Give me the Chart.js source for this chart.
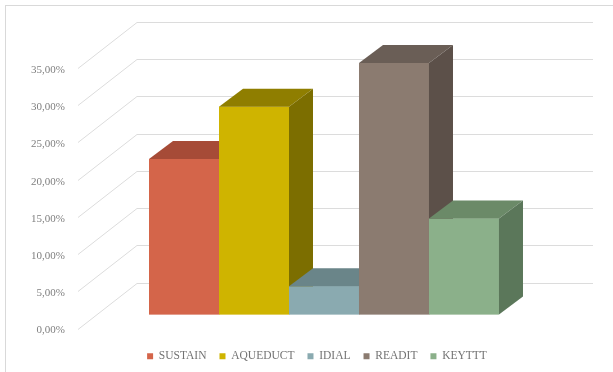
<!DOCTYPE html>
<html>
<head>
<meta charset="utf-8">
<script src="https://cdn.jsdelivr.net/npm/chart.js@4.4.1/dist/chart.umd.min.js"></script>
<style>
  html, body { margin: 0; padding: 0; background: #fff; }
</style>
</head>
<body>
<canvas id="chart" width="613" height="372"></canvas>
<script>
// Series (one bar each, values in %)
const seriesNames = ['SUSTAIN', 'AQUEDUCT', 'IDIAL', 'READIT', 'KEYTTT'];
const seriesValues = [20.9, 27.9, 3.8, 33.8, 12.9];
const yTicks = [0, 5, 10, 15, 20, 25, 30, 35];

// Face colours: front / top / right side
const frontColors = ['#d4654a', '#cfb400', '#8aaab0', '#8b7b70', '#8bb08a'];
const topColors = ['#a64b37', '#8f7e00', '#6a8589', '#6a5e56', '#6b8a68'];
const sideColors = ['#8f4030', '#7c6e00', '#5d7679', '#5c5049', '#5b775a'];

// Depth offsets (px) for the fake 3D
const BAR_DX = 24, BAR_DY = 18;      // bar depth
const FRONT_DX = 18, FRONT_DY = 14;  // bar plane -> front edge of floor
const WALL_DX = 41, WALL_DY = 32;    // bar plane -> back wall

function fmtPct(v) {
  return v.toFixed(2).replace('.', ',') + '%';
}

function poly(ctx, pts, color) {
  ctx.beginPath();
  ctx.moveTo(pts[0][0], pts[0][1]);
  for (let i = 1; i < pts.length; i++) ctx.lineTo(pts[i][0], pts[i][1]);
  ctx.closePath();
  ctx.fillStyle = color;
  ctx.fill();
}

// Outer frame
const frame = {
  id: 'frame',
  beforeDraw(chart) {
    const ctx = chart.ctx;
    ctx.save();
    ctx.strokeStyle = '#d9d9d9';
    ctx.lineWidth = 1;
    ctx.strokeRect(5.5, 5.5, 800, 800);
    ctx.restore();
  }
};

// Back wall gridlines + diagonal floor connectors
const depthGrid = {
  id: 'depthGrid',
  beforeDatasetsDraw(chart) {
    const { ctx, chartArea, scales: { y } } = chart;
    ctx.save();
    ctx.strokeStyle = '#dcdcdc';
    ctx.lineWidth = 1;
    yTicks.forEach(v => {
      const py = Math.round(y.getPixelForValue(v)) + 0.5;
      ctx.beginPath();
      ctx.moveTo(chartArea.left - FRONT_DX, py + FRONT_DY);
      ctx.lineTo(chartArea.left + WALL_DX, py - WALL_DY);
      ctx.lineTo(chartArea.right + WALL_DX, py - WALL_DY);
      ctx.stroke();
    });
    ctx.restore();
  }
};

// Redraw bars left to right with top and side faces
const bars3d = {
  id: 'bars3d',
  afterDatasetsDraw(chart) {
    const ctx = chart.ctx;
    ctx.save();
    chart.data.datasets.forEach((ds, i) => {
      const bar = chart.getDatasetMeta(i).data[0];
      const { x, y, base, width } = bar.getProps(['x', 'y', 'base', 'width'], true);
      const l = x - width / 2, r = x + width / 2;
      poly(ctx, [[l, y], [r, y], [r, base], [l, base]], frontColors[i]);
      poly(ctx, [[l, y], [l + BAR_DX, y - BAR_DY], [r + BAR_DX, y - BAR_DY], [r, y]], topColors[i]);
      poly(ctx, [[r, y], [r + BAR_DX, y - BAR_DY], [r + BAR_DX, base - BAR_DY], [r, base]], sideColors[i]);
    });
    ctx.restore();
  }
};

const ctx = document.getElementById('chart').getContext('2d');
new Chart(ctx, {
  type: 'bar',
  data: {
    labels: [''],
    datasets: seriesNames.map((name, i) => ({
      label: name,
      data: [seriesValues[i]],
      backgroundColor: frontColors[i],
      borderWidth: 0
    }))
  },
  options: {
    responsive: false,
    animation: false,
    devicePixelRatio: 1,
    categoryPercentage: 0.7675,
    barPercentage: 1,
    layout: { padding: { left: 22, right: 1, top: 54, bottom: 0 } },
    scales: {
      x: {
        grid: { display: false },
        border: { display: false },
        ticks: { display: false },
        afterFit: s => { s.height = 23; }
      },
      y: {
        min: 0,
        max: 35,
        grid: { display: false, drawTicks: false },
        border: { display: false },
        afterBuildTicks: s => { s.ticks = yTicks.map(v => ({ value: v })); },
        afterFit: s => { s.width = 74; },
        ticks: {
          padding: 31,
          labelOffset: 16,
          color: '#7f7f7f',
          font: { family: 'Liberation Serif', size: 11 },
          callback: v => fmtPct(v)
        }
      },
      // empty right gutter that holds the back wall overhang
      gutter: {
        type: 'linear',
        position: 'right',
        grid: { display: false },
        border: { display: false },
        ticks: { display: false },
        afterFit: s => { s.width = 60; }
      }
    },
    plugins: {
      tooltip: { enabled: false },
      legend: {
        position: 'bottom',
        labels: {
          boxWidth: 6,
          boxHeight: 6,
          padding: 13,
          color: '#737373',
          font: { family: 'Liberation Serif', size: 11.5 }
        }
      }
    }
  },
  plugins: [frame, depthGrid, bars3d]
});
</script>
</body>
</html>
